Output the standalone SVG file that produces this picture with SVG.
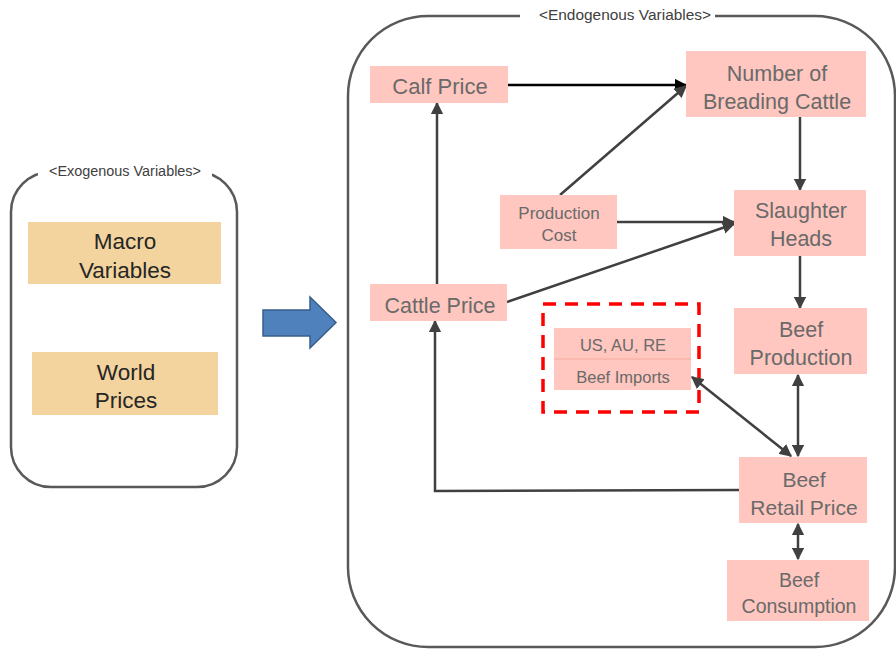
<svg xmlns="http://www.w3.org/2000/svg" width="896" height="650" viewBox="0 0 896 650">
<style>
.frame{fill:none;stroke:#595959;stroke-width:2.5}
.hdr{font-family:"Liberation Sans",Arial,sans-serif;font-size:14px;fill:#404040;text-anchor:middle}
.exo{fill:#F3D49E}
.exot{font-family:"Liberation Sans",Arial,sans-serif;font-size:22.5px;fill:#262626;text-anchor:middle}
.node{fill:#FFC7BF}
.t{font-family:"Liberation Sans",Arial,sans-serif;fill:#6a6a6a;text-anchor:middle}
.c{fill:none;stroke:#404040;stroke-width:2.5}
</style>
<defs>
<marker id="ah" viewBox="0 0 10 10" refX="9" refY="5" markerWidth="5" markerHeight="5" orient="auto-start-reverse" markerUnits="strokeWidth">
<path d="M0,0 L10,5 L0,10 z" fill="#404040"/>
</marker>
<marker id="ahk" viewBox="0 0 10 10" refX="9" refY="5" markerWidth="5" markerHeight="5" orient="auto" markerUnits="strokeWidth">
<path d="M0,0 L10,5 L0,10 z" fill="#000"/>
</marker>
</defs>
<rect width="896" height="650" fill="#fff"/>

<g id="exogenous">
<rect class="frame" x="11" y="172" width="226" height="315" rx="40"/>
<rect x="38" y="162" width="174" height="20" fill="#fff"/>
<text class="hdr" x="125" y="176" textLength="152" lengthAdjust="spacingAndGlyphs">&lt;Exogenous Variables&gt;</text>
</g>
<g id="macro">
<rect class="exo" x="28" y="222" width="193" height="62"/>
<text class="exot" x="125" y="249">Macro</text>
<text class="exot" x="125" y="278">Variables</text>
</g>
<g id="world">
<rect class="exo" x="32" y="352" width="186" height="63"/>
<text class="exot" x="126" y="380">World</text>
<text class="exot" x="126" y="408">Prices</text>
</g>

<g id="bigarrow">
<path d="M263,310 L310,310 L310,297 L336,322.5 L310,348 L310,336 L263,336 z" fill="#4F81BD" stroke="#385D8A" stroke-width="1.5"/>
</g>

<g id="endogenous">
<rect class="frame" x="348" y="16" width="547" height="631" rx="80"/>
<rect x="520" y="5" width="195" height="22" fill="#fff"/>
<text class="hdr" x="625" y="20" textLength="172" lengthAdjust="spacingAndGlyphs">&lt;Endogenous Variables&gt;</text>
</g>

<g id="imports-group">
<rect x="543" y="304" width="156" height="108" fill="none" stroke="#FF0000" stroke-width="3.5" stroke-dasharray="13,9"/>
</g>

<g id="connectors">
<line x1="508" y1="85" x2="686" y2="85" stroke="#000" stroke-width="2.5" marker-end="url(#ahk)"/>
<line class="c" x1="560" y1="195" x2="686" y2="86" marker-end="url(#ah)"/>
<line class="c" x1="617" y1="222" x2="734" y2="222" marker-end="url(#ah)"/>
<line class="c" x1="507" y1="302" x2="734" y2="224" marker-end="url(#ah)"/>
<line class="c" x1="437" y1="284" x2="437" y2="103" marker-end="url(#ah)"/>
<line class="c" x1="800" y1="117" x2="800" y2="190" marker-end="url(#ah)"/>
<line class="c" x1="800" y1="256" x2="800" y2="308" marker-end="url(#ah)"/>
<line class="c" x1="798" y1="375" x2="798" y2="456" marker-start="url(#ah)" marker-end="url(#ah)"/>
<line class="c" x1="692" y1="377" x2="791" y2="456" marker-start="url(#ah)" marker-end="url(#ah)"/>
<polyline class="c" points="739,490 435,491 435,321" marker-end="url(#ah)"/>
<line class="c" x1="798" y1="524" x2="798" y2="559" marker-start="url(#ah)" marker-end="url(#ah)"/>
</g>

<g id="calf-price">
<rect class="node" x="370" y="66" width="138" height="37"/>
<text class="t" x="440" y="94" font-size="22">Calf Price</text>
</g>
<g id="breeding-cattle">
<rect class="node" x="686" y="51" width="180" height="66"/>
<text class="t" x="777" y="81" font-size="21.5">Number of</text>
<text class="t" x="777" y="109" font-size="21.5">Breading Cattle</text>
</g>
<g id="production-cost">
<rect class="node" x="500" y="195" width="117" height="54"/>
<text class="t" x="559" y="219" font-size="17">Production</text>
<text class="t" x="559" y="241" font-size="17">Cost</text>
</g>
<g id="slaughter-heads">
<rect class="node" x="734" y="190" width="132" height="66"/>
<text class="t" x="801" y="218" font-size="21.5">Slaughter</text>
<text class="t" x="801" y="246" font-size="21.5">Heads</text>
</g>
<g id="cattle-price">
<rect class="node" x="370" y="284" width="137" height="37"/>
<text class="t" x="440" y="313" font-size="21.5">Cattle Price</text>
</g>
<g id="beef-imports">
<rect class="node" x="554" y="328" width="137" height="62"/>
<line x1="554" y1="359" x2="691" y2="359" stroke="#F4A99C" stroke-width="1"/>
<text class="t" x="623" y="351" font-size="16.5">US, AU, RE</text>
<text class="t" x="623" y="383" font-size="16.5">Beef Imports</text>
</g>
<g id="beef-production">
<rect class="node" x="734" y="308" width="133" height="66"/>
<text class="t" x="801" y="337" font-size="21.5">Beef</text>
<text class="t" x="801" y="365" font-size="21.5">Production</text>
</g>
<g id="beef-retail-price">
<rect class="node" x="739" y="457" width="128" height="66"/>
<text class="t" x="804" y="487" font-size="21">Beef</text>
<text class="t" x="804" y="515" font-size="21">Retail Price</text>
</g>
<g id="beef-consumption">
<rect class="node" x="727" y="560" width="142" height="61"/>
<text class="t" x="799" y="587" font-size="19.5">Beef</text>
<text class="t" x="799" y="613" font-size="19.5">Consumption</text>
</g>
</svg>
